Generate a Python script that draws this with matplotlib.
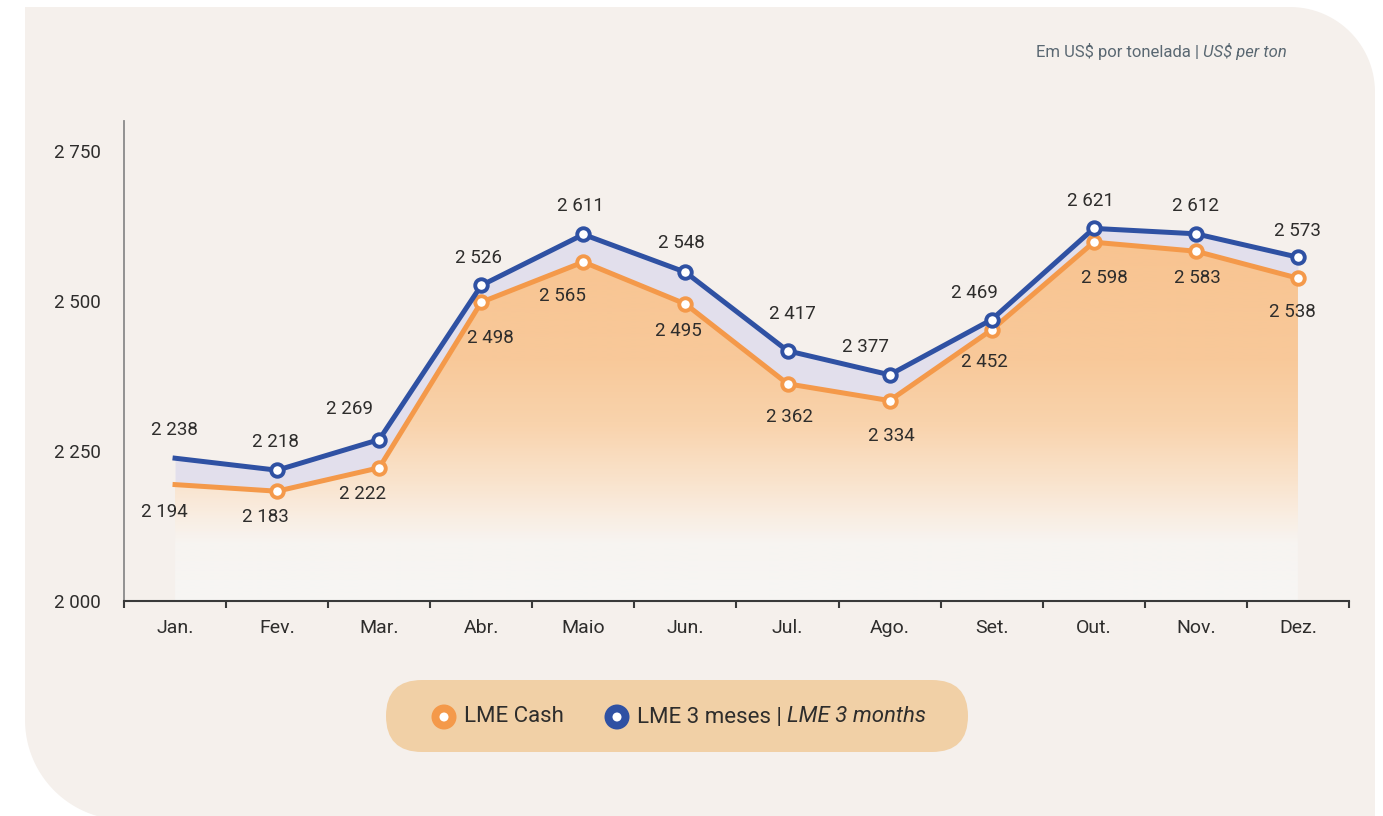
import numpy as np
import matplotlib.pyplot as plt
from matplotlib.colors import LinearSegmentedColormap
from matplotlib.patches import FancyBboxPatch, Circle, PathPatch
from matplotlib.path import Path

plt.rcParams['font.family'] = ['Roboto', 'DejaVu Sans']

# Data
months = ["Jan.", "Fev.", "Mar.", "Abr.", "Maio", "Jun.", "Jul.", "Ago.", "Set.", "Out.", "Nov.", "Dez."]
lme_cash = [2194, 2183, 2222, 2498, 2565, 2495, 2362, 2334, 2452, 2598, 2583, 2538]
lme_3m = [2238, 2218, 2269, 2526, 2611, 2548, 2417, 2377, 2469, 2621, 2612, 2573]
series_names = ["LME Cash", "LME 3 meses | "]
series_names_en = ["", "LME 3 months"]
yticks = [2000, 2250, 2500, 2750]

# label offsets in pixels (layout only)
off_3m = [(-1, 28), (-2, 28), (-30, 31), (-3, 27), (-3, 28), (-4, 29),
          (5, 37), (-24, 28), (-17, 27), (-3, 27), (0, 28), (-1, 26)]
off_cash = [(-11, -27), (-12, -26), (-17, -26), (9, -36), (-21, -34), (-7, -27),
            (2, -33), (2, -35), (-7, -32), (11, -36), (2, -27), (-6, -34)]

ORANGE = "#F4994A"
BLUE = "#2F51A3"
TEXT = "#2E2D2C"
PANEL = "#F5F0EC"

fig = plt.figure(figsize=(13.83, 8.16), dpi=100)
fig.patch.set_facecolor("white")

# background panel in pixel coordinates
bg = fig.add_axes([0, 0, 1, 1], zorder=0)
bg.set_xlim(0, 1383)
bg.set_ylim(816, 0)
bg.axis("off")

r1, r2 = 85, 100
left, top, right, bottom = 25, 7, 1375, 820
verts = [(left, top), (right - r1, top)]
t = np.linspace(-np.pi / 2, 0, 30)
verts += list(zip(right - r1 + r1 * np.cos(t), top + r1 + r1 * np.sin(t)))
verts += [(right, bottom), (left + r2, bottom)]
t = np.linspace(np.pi / 2, np.pi, 30)
verts += list(zip(left + r2 + r2 * np.cos(t), bottom - r2 + r2 * np.sin(t)))
verts += [(left, top)]
bg.add_patch(PathPatch(Path(verts), facecolor=PANEL, edgecolor="none"))

# subtitle
t_it = bg.text(1287, 51, "US$ per ton", ha="right", va="center", fontsize=12,
               color="#5A6872", style="italic")
bg.annotate("Em US$ por tonelada | ", xy=(0, 0), xycoords=t_it, ha="right", va="bottom",
            fontsize=12, color="#5A6872")

# legend pill
bg.add_patch(FancyBboxPatch((386, 680), 582, 72, boxstyle="round,pad=0,rounding_size=36",
                            facecolor="#F1D0A6", edgecolor="none"))
for cx, col, name, name_en in [(444, ORANGE, series_names[0], series_names_en[0]),
                               (617, BLUE, series_names[1], series_names_en[1])]:
    bg.add_patch(Circle((cx, 717), 12.5, facecolor=col, edgecolor="none"))
    bg.add_patch(Circle((cx, 717), 4.5, facecolor="white", edgecolor="none"))
    tx = bg.text(cx + 20, 717, name, ha="left", va="center", fontsize=16, color=TEXT)
    if name_en:
        bg.annotate(name_en, xy=(1, 0), xycoords=tx, ha="left", va="bottom",
                    fontsize=16, color=TEXT, style="italic")

# main chart
ax = fig.add_axes([124 / 1383, 215 / 816, 1225 / 1383, 480 / 816], zorder=1)
ax.set_facecolor("none")
x = np.arange(len(months))
ax.set_xlim(-0.5, 11.5)
ax.set_ylim(2000, 2800)

# gradient fill under LME Cash
poly = ax.fill_between(x, lme_cash, 2000, facecolor="none", edgecolor="none")
cmap = LinearSegmentedColormap.from_list("grad", [
    (0.0, "#F7F6F4"), (0.12, "#F7F4F1"), (0.17, "#F9EEE3"), (0.25, "#FAE3CC"),
    (0.37, "#F9D3AC"), (0.5, "#F8C99A"), (0.75, "#F8C491"), (1.0, "#F8C491")])
grad = np.linspace(0, 1, 400).reshape(-1, 1)
img = ax.imshow(grad, cmap=cmap, origin="lower", aspect="auto",
                extent=(-0.5, 11.5, 2000, 2800), zorder=1)
img.set_clip_path(poly.get_paths()[0], transform=ax.transData)

# band between the two series
ax.fill_between(x, lme_cash, lme_3m, color="#E2DFEC", linewidth=0, zorder=2)

ax.plot(x, lme_cash, color=ORANGE, lw=3.6, marker="o", markevery=range(1, 12),
        markersize=9, markerfacecolor="white", markeredgecolor=ORANGE,
        markeredgewidth=2.8, zorder=4)
ax.plot(x, lme_3m, color=BLUE, lw=3.6, marker="o", markevery=range(1, 12),
        markersize=9, markerfacecolor="white", markeredgecolor=BLUE,
        markeredgewidth=2.8, zorder=5)

def fmt(v):
    return f"{v:,}".replace(",", " ")

for i in range(len(months)):
    ax.annotate(fmt(lme_3m[i]), (x[i], lme_3m[i]), xytext=off_3m[i],
                textcoords="offset pixels", ha="center", va="center",
                fontsize=13.5, color=TEXT, zorder=6)
    ax.annotate(fmt(lme_cash[i]), (x[i], lme_cash[i]), xytext=off_cash[i],
                textcoords="offset pixels", ha="center", va="center",
                fontsize=13.5, color=TEXT, zorder=6)

# axes styling
for s in ["top", "right"]:
    ax.spines[s].set_visible(False)
ax.spines["left"].set_color("#8A8A8A")
ax.spines["left"].set_linewidth(1.3)
ax.spines["bottom"].set_color("#3A3A3A")
ax.spines["bottom"].set_linewidth(1.5)

ax.set_yticks(yticks)
ax.set_yticklabels([fmt(v) for v in yticks])
ax.tick_params(axis="y", length=0, pad=17, labelsize=13.5, labelcolor=TEXT)

ax.set_xticks(np.arange(-0.5, 12, 1))
ax.set_xticklabels([])
ax.tick_params(axis="x", which="major", length=5, width=1.5, color="#3A3A3A", direction="out")
ax.set_xticks(x, minor=True)
ax.set_xticklabels(months, minor=True)
ax.tick_params(axis="x", which="minor", length=0, pad=13, labelsize=14, labelcolor=TEXT)

fig.savefig("out.png", dpi=100, facecolor=fig.get_facecolor())
